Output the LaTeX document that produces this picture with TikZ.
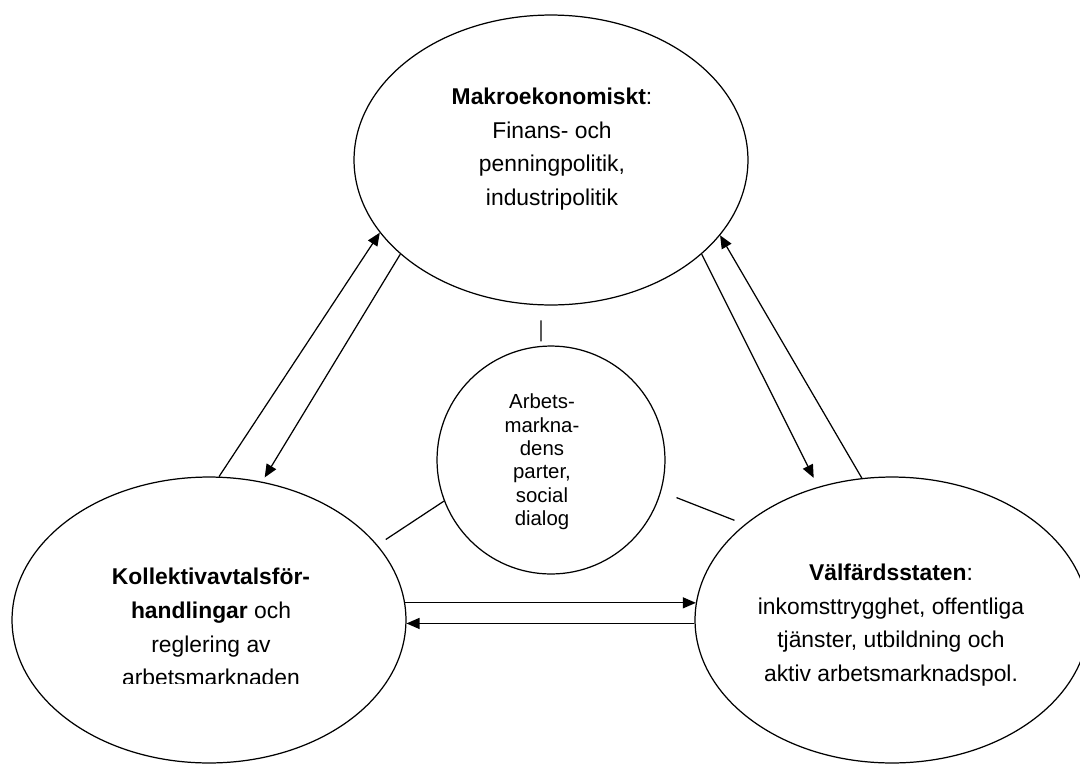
\documentclass[tikz,border=0pt]{standalone}
\usepackage{fontspec}
\setmainfont{Liberation Sans}
\usetikzlibrary{shapes.geometric,arrows.meta}

\begin{document}
\begin{tikzpicture}[x=0.02cm,y=-0.02cm,line width=0.7pt,>={Triangle[length=0.26cm,width=0.22cm]},
	bubble/.style={ellipse,draw,minimum width=7.88cm,minimum height=5.72cm,inner sep=0pt},
	ring/.style={circle,draw,minimum size=4.56cm,inner sep=0pt},
	txt/.style={align=center,font=\fontsize{13}{19.2}\selectfont},
	smalltxt/.style={align=center,font=\fontsize{11.6}{13.3}\selectfont}]
		\useasboundingbox (0,0) rectangle (1080,765);

		\node[bubble,minimum height=5.8cm] (makro) at (551,160) {};
		\node[bubble] (kollektiv) at (209,620) {};
		\node[bubble] (velfard) at (892,620) {};
		\node[ring] (dialog) at (551,460) {};

		\node[txt] (makrotext) at (552,149) {\textbf{Makroekonomiskt}:\\Finans- och\\penningpolitik,\\industripolitik};
		\node[txt] (velfardtext) at (891,625) {\textbf{Välfärdsstaten}:\\inkomsttrygghet, offentliga\\tjänster, utbildning och\\aktiv arbetsmarknadspol.};
		\node[smalltxt] (dialogtext) at (542,462) {Arbets-\\markna-\\dens\\parter,\\social\\dialog};
		\begin{scope}
			\clip (0,0) rectangle (1080,683);
			\node[txt] (kollektivtext) at (211,627) {\textbf{Kollektivavtalsför-}\\\textbf{handlingar} och\\reglering av\\arbetsmarknaden};
		\end{scope}

		% stubs between the parties and the three fields
		\draw[shorten <=0.3cm,shorten >=0.09cm] (makro.266) -- (dialog.95);
		\draw[shorten >=0.2cm] (dialog.201) -- (kollektiv.24);
		\draw[shorten <=0.33cm,shorten >=0.22cm] (dialog.344) -- (velfard.147);

		\draw[->] (kollektiv.86) -- (makro.203);
		\draw[->,shorten >=0.1cm] (makro.212) -- (kollektiv.69);
		\draw[->,shorten >=0.2cm] (makro.328) -- (velfard.119);
		\draw[->] (velfard.102) -- (makro.336);
		\draw[->] (kollektiv.5) -- (velfard.175);
		\draw[->] (velfard.181) -- (kollektiv.-1);
\end{tikzpicture}
\end{document}
